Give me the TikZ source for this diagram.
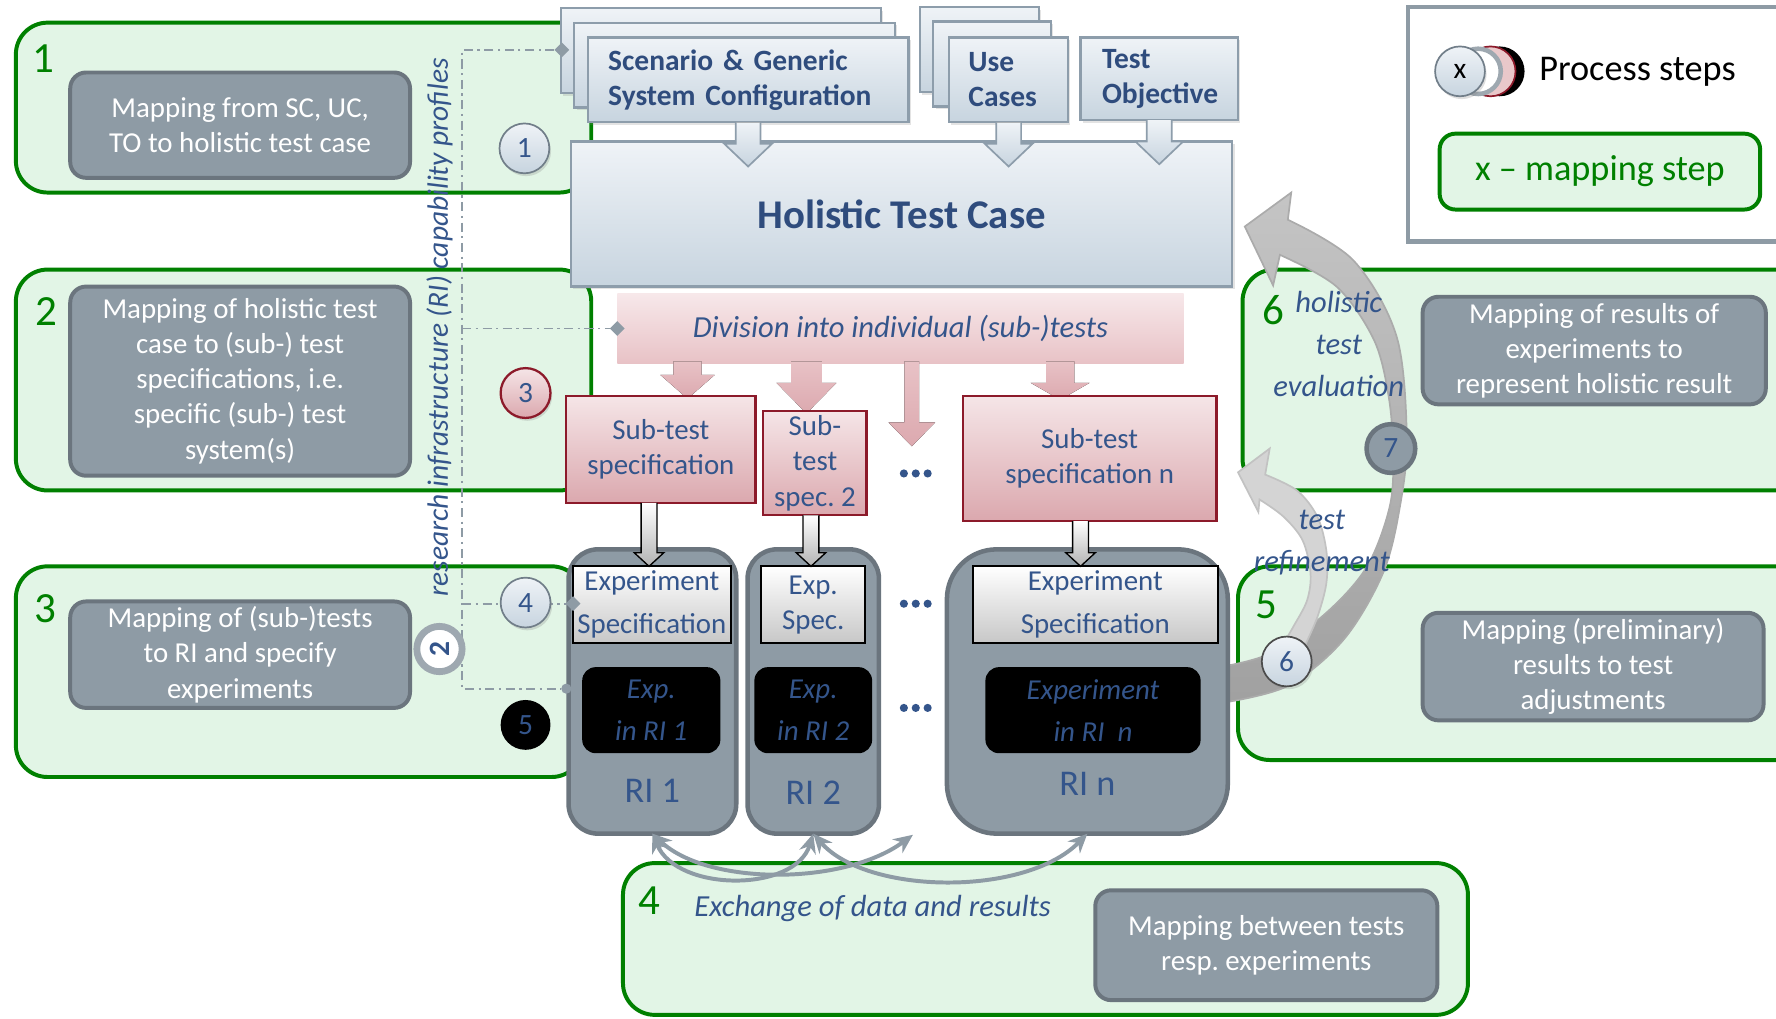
\documentclass[tikz,border=0pt]{standalone}
\usepackage{fontspec}
\setmainfont{Carlito}
\usetikzlibrary{shapes.geometric,arrows.meta,shadows}

\definecolor{gline}{HTML}{008000}
\definecolor{gfill}{HTML}{E2F5E6}
\definecolor{mfill}{HTML}{8E9BA5}
\definecolor{mline}{HTML}{6B757E}
\definecolor{dblue}{HTML}{34558B}
\definecolor{tblue}{HTML}{2F4C7D}
\definecolor{ttop}{HTML}{EFF3F7}
\definecolor{tbot}{HTML}{C7D4DF}
\definecolor{tline}{HTML}{8D9DAB}
\definecolor{ptop}{HTML}{F5E5E7}
\definecolor{pbot}{HTML}{DBA8AE}
\definecolor{pline}{HTML}{8C1A2A}
\definecolor{band1}{HTML}{F7E8EA}
\definecolor{band2}{HTML}{E8C2C6}
\definecolor{band3}{HTML}{DCA9AF}
\definecolor{ringgrey}{HTML}{9EA8B0}
\definecolor{legpink}{HTML}{E9C8CA}

\newcommand\setfs[2]{\fontsize{#1}{#2}\selectfont}

% block arrow hanging below a top box
\newcommand\tblockarrow[1]{%
  \filldraw[toparrow] (#1) ++(-11,0) -- ++(0,19) -- ++(-10,0) -- ++(21,20) -- ++(21,-20) -- ++(-10,0) -- ++(0,-19);}
% grey block arrow ending at a tip coordinate, total length #2
\newcommand\vblockarrow[2]{%
  \filldraw[greyarrow] (#1) ++(-7,-#2) -- ++(0,#2-12) -- ++(-6,0) -- (#1) -- ++(13,-12) -- ++(-6,0) -- ++(0,-#2+12);}
% pink arrow leaving the division band: centre x, shaft half, head half, head start y, tip y
\newcommand\pinkarrow[5]{%
  \fill[pinkarrow] (#1-#2,319) -- (#1-#2,#4) -- (#1-#3,#4) -- (#1,#5) -- (#1+#3,#4) -- (#1+#2,#4) -- (#1+#2,319) -- cycle;}

\begin{document}
\frenchspacing
\begin{tikzpicture}[x=1pt,y=-1pt,
  every node/.style={inner sep=0pt, outer sep=0pt},
  rect/.style args={#1/#2/#3/#4}{at={({(#1+#3)/2},{(#2+#4)/2})},
    minimum width={(#3)-(#1)}, minimum height={(#4)-(#2)}},
  gbox/.style={draw=gline, line width=3.5pt, fill=gfill, rounded corners=28pt},
  mbox/.style={draw=mline, line width=3.5pt, fill=mfill, rounded corners=14pt,
    text=white, align=center, font=\setfs{25.5}{31}},
  gnum/.style={text=gline, font=\setfs{38}{40}},
  tbox/.style={draw=tline, line width=2pt, top color=ttop, bottom color=tbot,
    drop shadow={opacity=.22, shadow xshift=2pt, shadow yshift=-2.5pt}},
  ttext/.style={text=tblue, font=\bfseries\setfs{26}{31}, align=left},
  toparrow/.style={draw=tline, line width=1.5pt, top color=ttop, bottom color=tbot},
  sbox/.style={draw=pline, line width=1.8pt, top color=ptop, bottom color=pbot,
    text=dblue, align=center, font=\setfs{25.5}{31}},
  pinkarrow/.style={top color=band2, bottom color=band3},
  ribox/.style={draw=mline, line width=4pt, fill=mfill, rounded corners=26pt},
  ebox/.style={draw=black, line width=1.8pt, top color=white, bottom color=black!22,
    text=dblue, align=center, font=\setfs{25.5}{38}},
  bbox/.style={fill=black, rounded corners=12pt, text=dblue, align=center,
    font=\itshape\setfs{25.5}{37}},
  greyarrow/.style={draw=black, line width=1.2pt, top color=white, bottom color=black!30},
  ilabel/.style={text=dblue, font=\itshape\setfs{27}{37}, align=center},
  rilabel/.style={text=dblue, font=\setfs{32}{32}},
  pstep/.style={circle, minimum size=44pt, text=dblue, font=\setfs{26}{26}},
  bluestep/.style={pstep, draw=tline!80!black, line width=1.5pt, top color=ttop, bottom color=tbot,
    drop shadow={opacity=.25, shadow xshift=1.5pt, shadow yshift=-2.5pt}},
  pinkstep/.style={pstep, draw=pline, line width=2pt, top color=ptop, bottom color=pbot,
    drop shadow={opacity=.25, shadow xshift=1.5pt, shadow yshift=-2.5pt}},
  dashdot/.style={draw=mfill, line width=1.6pt, dash pattern=on 8pt off 4pt on 2pt off 4pt},
  marker/.style={diamond, fill=mfill, minimum size=13pt},
  xarrow/.style={draw=mfill, line width=3.5pt,
    {Stealth[length=17pt,width=15pt]}-{Stealth[length=17pt,width=15pt]}},
  bigarrow/.style={draw=black!33, line width=1.5pt, top color=black!23, bottom color=black!37},
  refarrow/.style={draw=black!24, line width=1.5pt, fill=black!17},
]
\useasboundingbox (0,0) rectangle (1568,899);
\clip (0,0) rectangle (1568,899);

% ---------- mapping step frames ----------
\node[gbox, rect=14/20/522/170] (g1) {};
\node[gbox, rect=14/238/522/433] (g2) {};
\node[gbox, rect=14/500/515/686] (g3) {};
\node[gbox, rect=550/762/1296/896] (g4) {};
\node[gbox, rect=1093/500/1640/671] (g5) {};
\node[gbox, rect=1097/238/1640/433] (g6) {};

\node[gnum] (n1) at (38,52) {1};
\node[gnum] (n2) at (41,275) {2};
\node[gnum] (n3) at (40,537) {3};
\node[gnum] (n4) at (573,795) {4};
\node[gnum] (n5) at (1118,534) {5};
\node[gnum] (n6) at (1124,274) {6};

\node[mbox, rect=62/64/362/157] (m1) {Mapping from SC, UC,\\TO to holistic test case};
\node[mbox, rect=62/253/362/420] (m2) {Mapping of holistic test\\case to (sub-) test\\specifications, i.e.\\specific (sub-) test\\system(s)};
\node[mbox, rect=62/531/362/625] (m3) {Mapping of (sub-)tests\\to RI and specify\\experiments};
\node[mbox, rect=967/786/1269/883] (m4) {Mapping between tests\\resp. experiments};
\node[mbox, rect=1256/541/1557/636] (m5) {Mapping (preliminary)\\results to test\\adjustments};
\node[mbox, rect=1256/262/1559/357] (m6) {Mapping of results of\\experiments to\\represent holistic result};

% ---------- legend ----------
\node[draw=mfill, line width=4pt, fill=white, rect=1243/6/1640/213] (leg) {};
\node[pstep, fill=black] (lk) at (1324,63) {};
\node[pstep, draw=pline, line width=1.5pt, fill=legpink] (lp) at (1316,63) {};
\node[pstep, draw=ringgrey, line width=4pt, fill=white, minimum size=40pt] (lw) at (1305,63) {};
\node[bluestep, text=black] (lb) at (1289,63) {x};
\node[anchor=west, font=\setfs{32}{36}] (lt) at (1359,63) {Process steps};
\node[gbox, rounded corners=14pt, rect=1271/118/1554/185, text=gline, font=\setfs{32}{36}] (lg) {x – mapping step};

% ---------- inputs and holistic test case ----------
\node[tbox, rect=495/7/778/82] (sca) {};
\node[tbox, rect=507/20/790/95] (scb) {};
\node[tbox, rect=519/33/802/108, ttext, text width=247pt] (scf) {Scenario \& Generic\\System Configuration};
\node[tbox, rect=812/6/917/81] (uca) {};
\node[tbox, rect=824/19/928/94] (ucb) {};
\node[tbox, rect=838/33/943/108, ttext, text width=71pt] (ucf) {Use\\Cases};
\node[tbox, rect=954/33/1093/106, ttext, text width=101pt] (tob) {Test\\Objective};

\node[tbox, rect=504/125/1088/253, text=tblue, font=\bfseries\setfs{36}{40}] (htc) {Holistic Test Case};
\tblockarrow{scf.south}
\tblockarrow{ucf.south}
\tblockarrow{tob.south}

% ---------- division into sub-tests ----------
\node[rect=545/259/1045/321, top color=band1, bottom color=band2,
  text=dblue, font=\itshape\setfs{27}{30}] (div) {Division into individual (sub-)tests};
\pinkarrow{607}{12.5}{24}{331}{352}
\pinkarrow{712}{13.5}{26.5}{338}{365}
\pinkarrow{805}{6.5}{20.5}{373}{394}
\pinkarrow{936}{12.5}{26}{338}{353}

\node[sbox, rect=500/350/667/444] (s1) {Sub-test\\specification};
\node[sbox, rect=674/363/765/455] (s2) {Sub-\\test\\spec. 2};
\node[sbox, rect=850/350/1074/460] (sn) {Sub-test\\specification n};

% ---------- evaluation and refinement loops ----------
\filldraw[bigarrow] plot[smooth, tension=0.55] coordinates {(1076,621) (1136,606) (1186,565) (1221,506) (1236,447) (1242,386) (1233,297) (1195,230) (1137,194)}
  -- (1140,170) -- (1099,200) -- (1124,252)
  -- plot[smooth, tension=0.55] coordinates {(1130,225) (1180,253) (1213,300) (1226,350) (1230,400) (1227,447) (1207,500) (1171,541) (1121,577) (1076,589)} -- cycle;
\filldraw[refarrow] plot[smooth, tension=0.55] coordinates {(1152,570) (1163,545) (1171,515) (1171,486) (1163,456) (1145,433) (1117,419)}
  -- (1121,396) -- (1093,417) -- (1111,452)
  -- plot[smooth, tension=0.55] coordinates {(1112,441) (1133,456) (1150,477) (1157,506) (1154,530) (1142,553) (1132,570)} -- cycle;

% ---------- research infrastructures ----------
\node[ribox, rect=502/485/650/736] (ri1) {};
\node[ribox, rect=660/485/776/736] (ri2) {};
\node[ribox, rounded corners=44pt, rect=836/485/1084/736] (rin) {};

\node[ebox, rect=506/500/645/568] (e1) {Experiment\\Specification};
\node[ebox, rect=672/500/764/568, font=\setfs{25.5}{31}] (e2) {Exp.\\Spec.};
\node[ebox, rect=859/500/1075/568] (en) {Experiment\\Specification};

\node[bbox, rect=514/589/636/665] (b1) {Exp.\\in RI 1};
\node[bbox, rect=666/589/770/665] (b2) {Exp.\\in RI 2};
\node[bbox, rect=870/589/1060/665] (bn) {Experiment\\in RI~~n};

\node[rilabel] (r1) at (576,698) {RI 1};
\node[rilabel] (r2) at (718,700) {RI 2};
\node[rilabel] (rn) at (960,692) {RI n};

\coordinate (t1) at ([xshift=-2.5pt]e1.north);
\coordinate (t2) at ([xshift=-2pt]e2.north);
\coordinate (tn) at ([xshift=-13pt]en.north);
\vblockarrow{t1}{56}
\vblockarrow{t2}{45}
\vblockarrow{tn}{40}

\foreach \yy in {418,533,625}{
  \fill[dblue] (798,\yy) circle (3.6) (808.5,\yy) circle (3.6) (819,\yy) circle (3.6);
}

% ---------- exchange of data ----------
\coordinate (dotsb) at (806,737);
\draw[xarrow] (ri1.south) .. controls (598,788) and (702,788) .. (ri2.south);
\draw[xarrow] (ri1.south) .. controls (625,782) and (745,782) .. (dotsb);
\draw[xarrow] (ri2.south) .. controls (765,790) and (905,792) .. (rin.south);
\node[ilabel, anchor=west] (xch) at (613,802) {Exchange of data and results};

% ---------- RI capability profiles ----------
\node[rotate=90, text=dblue, font=\itshape\setfs{26}{26}] (rip) at (388,289) {research infrastructure (RI) capability profiles};
\node[marker] (dm1) at (496,44) {};
\node[marker] (dm2) at (545,290) {};
\node[marker] (dm3) at (506,533) {};
\node[circle, fill=mfill, minimum size=9pt] (dm4) at (500,608) {};
\coordinate (spt) at (408,44);
\coordinate (spb) at (408,608);
\draw[dashdot] (dm1) -- (spt) -- (spb) -- (dm4);
\draw[dashdot] (spt |- dm2) -- (dm2);
\draw[dashdot] (spt |- dm3) -- (dm3);

% ---------- labels of the loops ----------
\node[ilabel] (hte) at (1182,304) {holistic\\test\\evaluation};
\node[ilabel] (tre) at (1167,479) {test\\refinement};

% ---------- process steps ----------
\node[bluestep] (c1) at (463,131) {1};
\node[pinkstep] (c3) at (464,347) {3};
\node[bluestep] (c4) at (464,532) {4};
\node[pstep, fill=black] (c5) at (464,640) {5};
\node[pstep, fill=white, draw=ringgrey, line width=6pt, minimum size=40pt, rotate=90,
  font=\bfseries\setfs{26}{26}] (c2) at (388,573) {2};
\node[bluestep, draw=black!70] (c6) at (1136,584) {6};
\node[pstep, fill=mfill, draw=mline, line width=4pt, minimum size=43pt] (c7) at (1228,396) {7};
\end{tikzpicture}
\end{document}
